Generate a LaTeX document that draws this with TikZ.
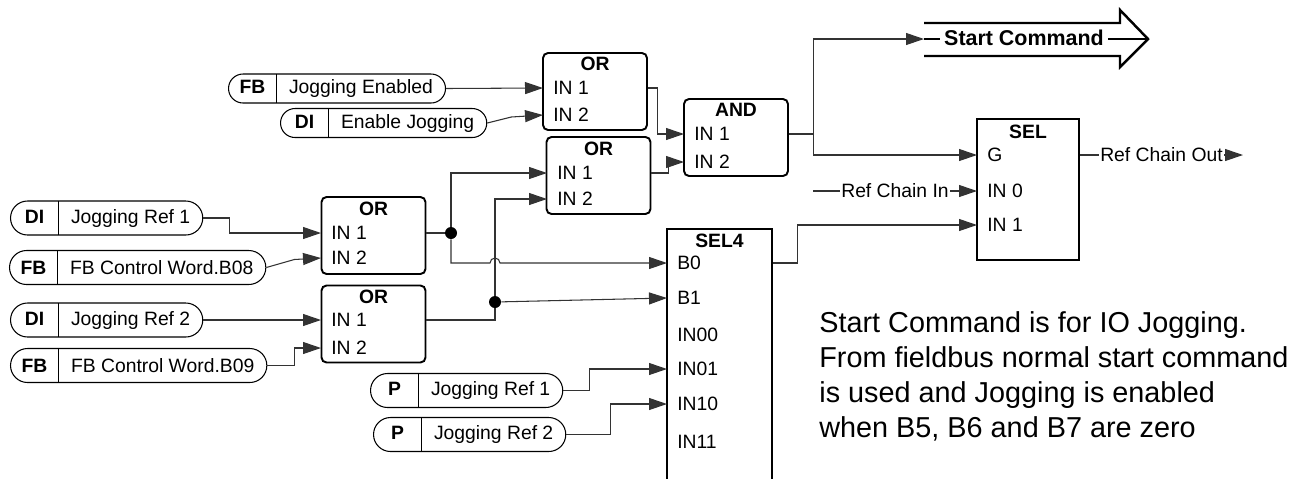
\documentclass[tikz,border=0pt]{standalone}
\usepackage{fontspec}
\setmainfont{Liberation Sans}
\usetikzlibrary{arrows.meta,calc}

\newcommand\pilltext[2]{\makebox[0.96cm]{\bfseries #1}\kern0.25cm #2\kern0.25cm}

\begin{document}
\begin{tikzpicture}[
  x=0.02cm, y=-0.02cm,
  font=\fontsize{11}{13}\selectfont,
  gate/.style={rectangle, draw, line width=1.1pt, rounded corners=0.1cm,
               minimum width=2.08cm, minimum height=1.54cm},
  selbox/.style={rectangle, draw, line width=1.1pt, minimum width=2.04cm},
  ttl/.style={font=\fontsize{11}{13}\selectfont\bfseries, inner sep=0pt},
  port/.style={anchor=west, inner xsep=0.2cm, inner ysep=0pt},
  pill/.style={rectangle, draw, line width=0.6pt, anchor=west, inner sep=0pt,
               minimum height=0.68cm, rounded corners=0.34cm,
               path picture={\draw[line width=0.6pt]
                 ([xshift=0.96cm]path picture bounding box.north west) --
                 ([xshift=0.96cm]path picture bounding box.south west);}},
  smallpill/.style={pill, minimum height=0.58cm, rounded corners=0.29cm},
  wire/.style={line width=0.6pt, draw=black!80},
  sig/.style={wire, -{Triangle[length=0.36cm, width=0.24cm]}},
  dot/.style={circle, fill, inner sep=0pt, minimum size=0.24cm},
  lbl/.style={fill=white, inner sep=1pt},
  fat/.style={line width=1.4pt, line join=miter}
]
\useasboundingbox (0,0) rectangle (1308,478);
\clip (0,0) rectangle (1308,478);

% signal sources
\node[smallpill] (fbje)  at (228,88.5)  {\pilltext{FB}{Jogging Enabled}};
\node[smallpill] (diej)  at (280,123)   {\pilltext{DI}{Enable Jogging}};
\node[pill]      (dijr1) at (10,218)    {\pilltext{DI}{Jogging Ref 1}};
\node[pill]      (fbb08) at (9,267.5)   {\pilltext{FB}{FB Control Word.B08}};
\node[pill]      (dijr2) at (10,320)    {\pilltext{DI}{Jogging Ref 2}};
\node[pill]      (fbb09) at (10,365.5)  {\pilltext{FB}{FB Control Word.B09}};
\node[pill]      (pjr1)  at (370,390.5) {\pilltext{P}{Jogging Ref 1}};
\node[pill]      (pjr2)  at (373,434.5) {\pilltext{P}{Jogging Ref 2}};

% logic blocks
\node[gate] (or1) at (595,91.5) {};
\node[ttl]  (or1t) at (595,64) {OR};
\node[port] (or1a) at (543,88)  {IN 1};
\node[port] (or1b) at (543,115) {IN 2};

\node[gate] (and) at (736,137.5) {};
\node[ttl]  (andt) at (736,110) {AND};
\node[port] (anda) at (684,134) {IN 1};
\node[port] (andb) at (684,162) {IN 2};

\node[gate] (or2) at (598.5,175.5) {};
\node[ttl]  (or2t) at (598.5,149) {OR};
\node[port] (or2a) at (547,173) {IN 1};
\node[port] (or2b) at (547,199) {IN 2};

\node[gate] (or3) at (373.5,235.5) {};
\node[ttl]  (or3t) at (373.5,209) {OR};
\node[port] (or3a) at (321,233) {IN 1};
\node[port] (or3b) at (321,258) {IN 2};

\node[gate] (or4) at (373.5,324) {};
\node[ttl]  (or4t) at (373.5,297) {OR};
\node[port] (or4a) at (321,320) {IN 1};
\node[port] (or4b) at (321,348) {IN 2};

\node[selbox, minimum height=2.82cm] (sel) at (1028,189.5) {};
\node[ttl]  (selt) at (1028,132) {SEL};
\node[port] (selg)  at (977,155) {G};
\node[port] (seli0) at (977,191) {IN 0};
\node[port] (seli1) at (977,225) {IN 1};

\node[selbox, minimum width=2.1cm, minimum height=5.6cm] (sel4) at (719.5,369) {};
\node[ttl]  (sel4t) at (719.5,241) {SEL4};
\node[port] (s4b0)   at (667,263) {B0};
\node[port] (s4b1)   at (667,298) {B1};
\node[port] (s4in00) at (667,335) {IN00};
\node[port] (s4in01) at (667,369) {IN01};
\node[port] (s4in10) at (667,404) {IN10};
\node[port] (s4in11) at (667,442) {IN11};

\node[dot] (j1) at (451,233) {};
\node[dot] (j2) at (495,302) {};

% start command output
\coordinate (scin)  at (924,39);
\coordinate (sctip) at (1148,39);
\draw[fat] (924,23) -- (1120,23) -- (1120,10) -- (sctip) -- (1120,67) -- (1120,56) -- (924,56);
\draw[fat] (scin) -- (sctip);
\node[lbl, inner xsep=2.5pt, font=\fontsize{12.2}{14}\selectfont\bfseries] (start) at (1024,38) {Start Command};

% wiring
\draw[sig] (fbje.east) -- (or1a.west);
\draw[sig] (diej.east) -- ++(24,-6) -- (or1b.west);
\draw[sig] (dijr1.east) -- ++(26,0) |- (or3a.west);
\draw[sig] (fbb08.east) -- ++(28,-8) -- (or3b.west);
\draw[sig] (dijr2.east) -- (or4a.west);
\draw[sig] (fbb09.east) -- ++(27,0) |- (or4b.west);

\draw[wire] (or3.east |- or3a) -- (j1);
\draw[sig] (j1) |- (or2a.west);
\coordinate (hop) at (j2 |- s4b0);
\draw[sig] (j1) |- ([xshift=-0.1cm]hop) arc[start angle=180, end angle=0, radius=0.1cm] -- (s4b0.west);
\draw[wire] (or4.east |- or4a) -| (j2);
\draw[sig] (j2) |- (or2b.west);
\draw[sig] (j2) -- (s4b1.west);

\draw[sig] (or1.east |- or1a) -- ++(10,0) |- (anda.west);
\draw[sig] (or2.east |- or2a) -- ++(17,0) |- (andb.west);
\draw[wire] (and.east |- anda) -- ++(25,0) coordinate (split);
\draw[sig] (split) |- (scin);
\draw[sig] (split) |- (selg.west);

\draw[sig] (pjr1.east) -- ++(26,0) |- (s4in01.west);
\draw[sig] (pjr2.east) -- ++(44,0) |- (s4in10.west);
\draw[sig] (sel4.east |- s4b0) -- ++(25,0) |- (seli1.west);

\coordinate (rcin)  at (813,191);
\coordinate (rcout) at (1243,155);
\draw[sig] (rcin) -- node[lbl] (rcinl) {Ref Chain In} (seli0.west);
\draw[sig] (sel.east |- selg) -- node[lbl] (rcoutl) {Ref Chain Out} (rcout);

\node[anchor=north west, align=left, inner sep=0pt, font=\fontsize{16.4}{19.9}\selectfont] (note)
  at (819,311) {Start Command is for IO Jogging.\\From fieldbus normal start command\\is used and Jogging is enabled\\when B5, B6 and B7 are zero};

\end{tikzpicture}
\end{document}
